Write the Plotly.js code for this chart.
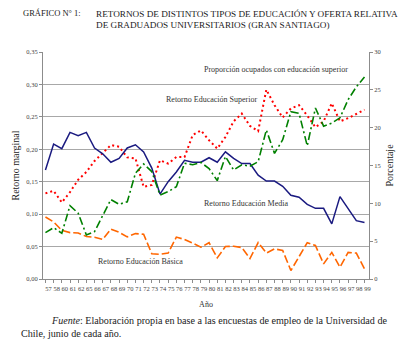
<!DOCTYPE html>
<html>
<head>
<meta charset="utf-8">
<script src="https://cdn.plot.ly/plotly-3.0.1.min.js"></script>
<style>html,body{margin:0;padding:0;background:#fff;}#chart{width:400px;height:342px;}</style>
</head>
<body>
<div id="chart"></div>
<script>
// Year labels (x categories)
var years = ["57","58","60","61","62","65","66","67","68","69",
             "70","71","72","73","74","75","76","77","78","79",
             "80","81","82","83","84","85","86","87","88","89",
             "90","91","92","93","94","95","96","97","98","99"];

// Retorno Educación Media (left axis, marginal return)
var retornoMedia = [0.168,0.208,0.201,0.226,0.221,0.226,0.202,0.193,0.180,0.186,
                    0.202,0.207,0.196,0.171,0.131,0.150,0.165,0.183,0.180,0.180,
                    0.187,0.180,0.196,0.186,0.178,0.178,0.160,0.151,0.151,0.143,
                    0.129,0.126,0.115,0.109,0.109,0.085,0.127,0.109,0.090,0.087];

// Retorno Educación Básica (left axis)
var retornoBasica = [0.0955,0.088,0.075,0.0715,0.071,0.0655,0.0645,0.061,0.077,0.072,
                     0.065,0.070,0.069,0.039,0.038,0.040,0.0646,0.061,0.0553,0.049,
                     0.056,0.0326,0.050,0.0505,0.0485,0.0315,0.0562,0.040,0.0465,0.044,
                     0.013,0.0345,0.056,0.0517,0.0233,0.041,0.0183,0.041,0.040,0.0156];

// Retorno Educación Superior (left axis)
var retornoSuperior = [0.132,0.136,0.118,0.134,0.153,0.165,0.182,0.194,0.2065,0.204,
                       0.1875,0.186,0.142,0.145,0.183,0.178,0.188,0.188,0.222,0.229,
                       0.214,0.201,0.219,0.243,0.255,0.236,0.228,0.292,0.268,0.249,
                       0.263,0.268,0.252,0.234,0.243,0.271,0.243,0.248,0.255,0.261];

// Proporción ocupados con educación superior (right axis, %)
var proporcionSuperior = [6.13,6.79,6.04,9.70,8.69,5.82,6.26,8.47,10.5,9.88,
                          10.2,13.98,15.2,14.2,11.1,11.55,12.2,15.3,15.1,15.4,
                          14.6,13.0,16.2,14.4,15.1,14.9,15.5,19.7,16.6,18.4,
                          22.1,21.9,17.6,22.6,20.2,20.6,21.3,23.7,25.4,26.7];

var serif = "Liberation Serif, Times New Roman, serif";
var axisGray = "#8c8c8c";

var traces = [
  {x: years, y: retornoSuperior, type: "scatter", mode: "lines", name: "Retorno Educación Superior",
   line: {color: "#ff0000", width: 2, dash: "2px,3px"}},
  {x: years, y: proporcionSuperior, type: "scatter", mode: "lines", yaxis: "y2", name: "Proporción ocupados con educación superior",
   line: {color: "#008000", width: 1.6, dash: "8px,3px,2px,3px"}},
  {x: years, y: retornoBasica, type: "scatter", mode: "lines", name: "Retorno Educación Básica",
   line: {color: "#ff6600", width: 1.6, dash: "8px,3px"}},
  {x: years, y: retornoMedia, type: "scatter", mode: "lines", name: "Retorno Educación Media",
   line: {color: "#1a1a80", width: 1.5}}
];

function px(xp){ return (xp - 43) / 326; }
function py(yp){ return (279 - yp) / 227; }

var annFont = {family: serif, size: 8, color: "#333"};
var layout = {
  width: 400, height: 342,
  margin: {l: 43, r: 31, t: 52, b: 63},
  paper_bgcolor: "#fff", plot_bgcolor: "#fff",
  showlegend: false,
  separators: ", ",
  font: {family: serif, color: "#333"},
  title: {
    text: "RETORNOS DE DISTINTOS TIPOS DE EDUCACIÓN Y OFERTA RELATIVA<br>DE GRADUADOS UNIVERSITARIOS (GRAN SANTIAGO)",
    font: {family: serif, size: 9.2, color: "#222"},
    xref: "container", x: 96/400, xanchor: "left",
    yref: "container", y: 1 - 16.5/342, yanchor: "middle",
    align: "left"
  },
  xaxis: {
    type: "category", categoryorder: "array", categoryarray: years,
    range: [-0.3, 39.55],
    showline: true, linecolor: axisGray, linewidth: 1,
    ticks: "outside", ticklen: 3, tickcolor: axisGray,
    tickfont: {family: serif, size: 6.5, color: "#444"},
    tickangle: 0, ticklabelshift: 3,
    showgrid: false, zeroline: false,
    title: {text: "Año", font: {family: serif, size: 8, color: "#333"}, standoff: 10}
  },
  yaxis: {
    range: [0, 0.35], tick0: 0, dtick: 0.05, tickformat: ".2f",
    showline: true, linecolor: axisGray,
    ticks: "outside", ticklen: 3, tickcolor: axisGray,
    tickfont: {family: serif, size: 6.5, color: "#444"},
    showgrid: true, gridcolor: "#a8a8a8", gridwidth: 1, zeroline: false,
    title: {text: "Retorno marginal", font: {family: serif, size: 10, color: "#222"}, standoff: 4}
  },
  yaxis2: {
    overlaying: "y", side: "right",
    range: [0, 30], tick0: 0, dtick: 5,
    showline: true, linecolor: axisGray,
    ticks: "outside", ticklen: 3, tickcolor: axisGray,
    tickfont: {family: serif, size: 6.5, color: "#444"},
    showgrid: false, zeroline: false,
    title: {text: "Porcentaje", font: {family: serif, size: 10, color: "#222"}, standoff: 6}
  },
  annotations: [
    {text: "GRÁFICO N° 1:", xref: "paper", yref: "paper", x: px(20.5), y: py(13.5), xanchor: "left", yanchor: "middle",
     showarrow: false, font: {family: serif, size: 8.5, color: "#222"}},
    {text: "Proporción ocupados con educación superior", xref: "paper", yref: "paper", x: px(202), y: py(69),
     xanchor: "left", yanchor: "middle", showarrow: false, font: annFont},
    {text: "Retorno Educación Superior", xref: "paper", yref: "paper", x: px(164), y: py(99),
     xanchor: "left", yanchor: "middle", showarrow: false, font: annFont},
    {text: "Retorno Educación Media", xref: "paper", yref: "paper", x: px(202), y: py(203),
     xanchor: "left", yanchor: "middle", showarrow: false, font: annFont},
    {text: "Retorno Educación Básica", xref: "paper", yref: "paper", x: px(96), y: py(261),
     xanchor: "left", yanchor: "middle", showarrow: false, font: annFont},
    {text: "<i>Fuente</i>: Elaboración propia en base a las encuestas de empleo de la Universidad de",
     xref: "paper", yref: "paper", x: px(49), y: py(320), xanchor: "left", yanchor: "middle",
     showarrow: false, font: {family: serif, size: 10.1, color: "#222"}},
    {text: "Chile, junio de cada año.", xref: "paper", yref: "paper", x: px(19), y: py(333), xanchor: "left", yanchor: "middle",
     showarrow: false, font: {family: serif, size: 10.1, color: "#222"}}
  ]
};

Plotly.newPlot("chart", traces, layout, {staticPlot: true, displayModeBar: false});
</script>
</body>
</html>
